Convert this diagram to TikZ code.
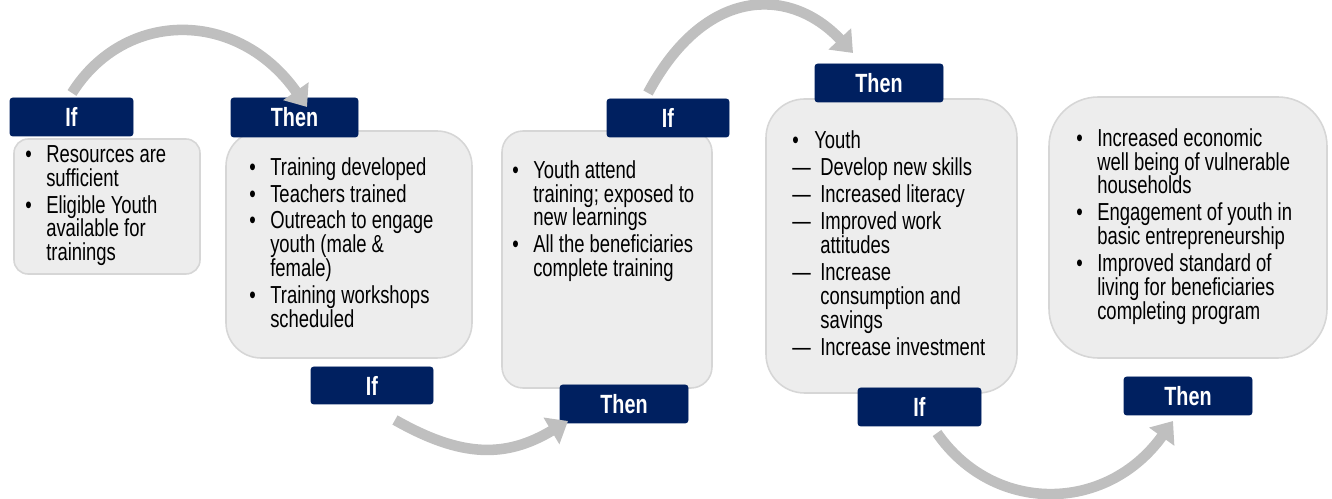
\documentclass[tikz,border=0pt]{standalone}
\usepackage{fontspec}
\setmainfont{Liberation Sans}[FakeStretch=0.75]
\usepackage{tikz}
\usetikzlibrary{calc,fit,arrows.meta,positioning}
\definecolor{navy}{HTML}{002060}
\definecolor{boxgrey}{HTML}{EDEDED}
\definecolor{edgegrey}{HTML}{D6D6D6}
\definecolor{arrowgrey}{HTML}{BFBFBF}
\newcommand{\bul}{\makebox[11.9pt][l]{\textbullet}}
\newcommand{\yul}{\makebox[12.5pt][l]{\textbullet}}
\newcommand{\dsh}{\makebox[15.9pt][l]{—}}
\newcommand{\ind}{\hspace*{11.9pt}}
\newcommand{\dind}{\hspace*{15.9pt}}

\begin{document}
\begin{tikzpicture}[x=0.02cm,y=-0.02cm]

\tikzset{infobox/.style={fill=boxgrey,draw=edgegrey,line width=0.9pt,inner sep=0pt},
hdrbox/.style={fill=navy,draw=navy,rounded corners=1.5pt,inner sep=0pt,text=white,font=\bfseries\fontsize{15pt}{15pt}\selectfont},
listtext/.style={anchor=north west,inner sep=0pt,align=left,font=\fontsize{14pt}{13.6pt}\selectfont},
flowarrow/.style={draw=arrowgrey,line width=6pt,-{Triangle[length=11pt,width=17pt]}}}

\useasboundingbox (0,0) rectangle (1332,499);

% Grey boxes
\node[infobox,rounded corners=8pt,fit={(14,139) (200,274)}] (box1) {};
\node[infobox,rounded corners=20pt,fit={(226,131) (472,358)}] (box2) {};
\node[infobox,rounded corners=12pt,fit={(502,131) (712,388)}] (box3) {};
\node[infobox,rounded corners=22pt,fit={(766,99) (1017,393)}] (box4) {};
\node[infobox,rounded corners=28pt,fit={(1049,97) (1327,358)}] (box5) {};

% Box texts
\node[listtext] (txt1) at (25,145) {\bul Resources are\\ \ind sufficient\\[1.7pt]
\bul Eligible Youth\\ \ind available for\\ \ind trainings};
\node[listtext] (txt2) at (249,157) {\bul Training developed\\[1.7pt] \bul Teachers trained\\[1.7pt]
\bul Outreach to engage\\ \ind youth (male \&\\ \ind female)\\[1.7pt]
\bul Training workshops\\ \ind scheduled};
\node[listtext] (txt3) at (512,160) {\bul Youth attend\\ \ind training; exposed to\\ \ind new learnings\\[1.7pt]
\bul All the beneficiaries\\ \ind complete training};
\node[listtext] (txt4) at (792,130) {\yul Youth\\[2pt] \dsh Develop new skills\\[1.7pt] \dsh Increased literacy\\[2pt]
\dsh Improved work\\ \dind attitudes\\[1.7pt] \dsh Increase\\ \dind consumption and\\ \dind savings\\[2pt]
\dsh Increase investment};
\node[listtext] (txt5) at (1076,128) {\bul Increased economic\\ \ind well being of vulnerable\\ \ind households\\[1.7pt]
\bul Engagement of youth in\\ \ind basic entrepreneurship\\[1.7pt]
\bul Improved standard of\\ \ind living for beneficiaries\\ \ind completing program};

% If / Then labels
\foreach \n/\t/\xa/\ya/\xb/\yb in {ifa/If/10/98/133/136, thena/Then/231/98/358/137,
  ifb/If/311/367/433/404, thenb/Then/560/385/688/423, ifc/If/607/99/729/137,
  thenc/Then/815/64/943/102, ifd/If/858/388/981/426, thend/Then/1124/377/1252/415}
  \node[hdrbox,minimum width={(\xb-\xa)*0.02cm},minimum height={(\yb-\ya)*0.02cm}] (\n)
    at ({(\xa+\xb)/2},{(\ya+\yb)/2}) {\t};

% Arrow ends
\coordinate (a1s) at (72,93); \coordinate (a1e) at (307,107);
\coordinate (a2s) at (395,420); \coordinate (a2e) at (568,421);
\coordinate (a3s) at (648,93); \coordinate (a3e) at (853,53);
\coordinate (a4s) at (937,433); \coordinate (a4e) at (1173,421);

% Curved arrows
\draw[flowarrow] (a1s) .. controls (125,9) and (238,9) .. (a1e);
\draw[flowarrow] (a2s) .. controls (462,458) and (506,458) .. (a2e);
\draw[flowarrow] (a3s) .. controls (705,-14) and (790,-14) .. (a3e);
\draw[flowarrow] (a4s) .. controls (993,514) and (1106,514) .. (a4e);

\end{tikzpicture}
\end{document}
